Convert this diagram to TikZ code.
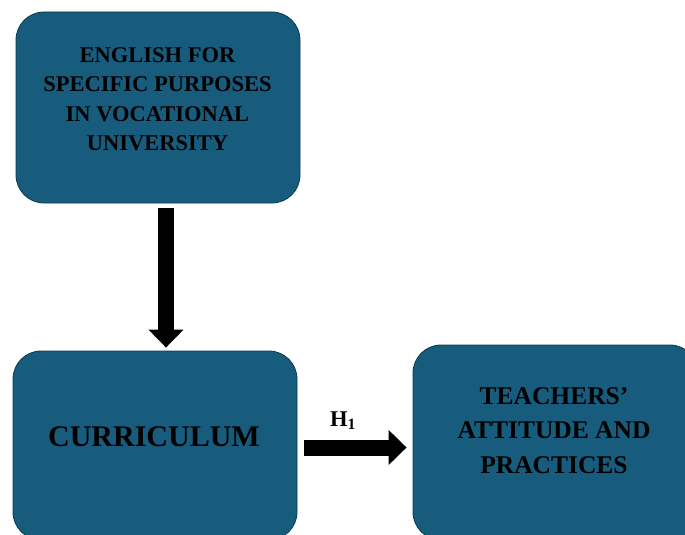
\documentclass[tikz,border=0pt]{standalone}
\usepackage{fontspec}
\setmainfont{Liberation Serif}
\usetikzlibrary{arrows.meta,calc}
\definecolor{boxfill}{RGB}{23,92,124}
\definecolor{boxline}{RGB}{14,58,80}
\begin{document}
\begin{tikzpicture}[x=1pt,y=-1pt,
  box/.style={draw=boxline, line width=0.8pt, fill=boxfill, rounded corners=28pt, inner sep=0pt},
  lbl/.style={font=\bfseries, align=center, text=black, inner sep=0pt},
  bigarrow/.style={line width=16pt, draw=black, -{Triangle[width=34pt,length=18pt]}}]
\useasboundingbox (0,0) rectangle (685,535);
% boxes
\node[box, minimum width=284pt, minimum height=191pt] (esp) at (158,107.5) {};
\node[box, minimum width=284pt, minimum height=189pt] (cur) at (155,445.5) {};
\node[box, minimum width=285pt, minimum height=195pt] (tap) at (555.5,442.5) {};
% texts
\node[lbl, font=\bfseries\fontsize{22.5}{29.5}\selectfont] (esptxt) at (157.5,99)
  {ENGLISH FOR\\SPECIFIC PURPOSES\\IN VOCATIONAL\\UNIVERSITY};
\node[lbl, font=\bfseries\fontsize{30}{36}\selectfont] (curtxt) at (154,437) {CURRICULUM};
\node[lbl, font=\bfseries\fontsize{25.5}{34.5}\selectfont] (taptxt) at (554,430.5)
  {TEACHERS’\\ATTITUDE AND\\PRACTICES};
% arrows
\draw[bigarrow] ($(esp.south)+(8pt,-5pt)$) -- ($(esp.south |- cur.north)+(8pt,3pt)$);
\draw[bigarrow] ($(cur.east)+(7pt,-2pt)$) -- ($(cur.east -| tap.west)+(-6pt,-2pt)$);
\node[lbl, font=\bfseries\fontsize{22.5}{26}\selectfont, anchor=base west] (h1) at (330,426) {H\textsubscript{1}};
\end{tikzpicture}
\end{document}
